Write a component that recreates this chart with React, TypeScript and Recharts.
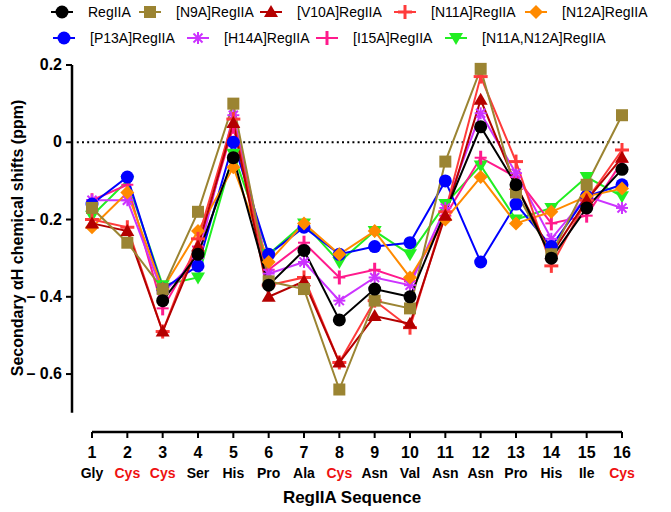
import { LineChart, Line, XAxis, YAxis, ReferenceLine } from "recharts";

const residues = [1, 2, 3, 4, 5, 6, 7, 8, 9, 10, 11, 12, 13, 14, 15, 16];
const residueNames = ["Gly", "Cys", "Cys", "Ser", "His", "Pro", "Ala", "Cys", "Asn", "Val", "Asn", "Asn", "Pro", "His", "Ile", "Cys"];
const yTicks = [0.2, 0, -0.2, -0.4, -0.6];

// RegIIA has no symbols at residues 1, 2 and 11 in the figure
const regIIA = [null, null, -0.41, -0.29, -0.04, -0.37, -0.28, -0.46, -0.38, -0.4, null, 0.04, -0.11, -0.3, -0.17, -0.07];
const n9a = [-0.17, -0.26, -0.38, -0.18, 0.1, -0.36, -0.38, -0.64, -0.41, -0.43, -0.05, 0.19, -0.13, -0.29, -0.11, 0.07];
const v10a = [-0.21, -0.23, -0.49, -0.27, 0.05, -0.4, -0.36, -0.57, -0.45, -0.47, -0.19, 0.11, -0.11, -0.29, -0.15, -0.04];
const n11a = [-0.2, -0.22, -0.49, -0.25, 0.06, -0.37, -0.35, -0.57, -0.41, -0.48, -0.18, 0.17, -0.05, -0.32, -0.15, -0.02];
const n12a = [-0.22, -0.13, -0.38, -0.23, -0.065, -0.31, -0.21, -0.29, -0.23, -0.35, -0.2, -0.09, -0.21, -0.18, -0.14, -0.12];
const p13a = [-0.16, -0.09, -0.38, -0.32, 0.0, -0.29, -0.22, -0.29, -0.27, -0.26, -0.1, -0.31, -0.16, -0.27, -0.14, -0.11];
const h14a = [-0.15, -0.15, -0.39, -0.3, 0.07, -0.34, -0.31, -0.41, -0.35, -0.37, -0.17, 0.075, -0.08, -0.25, -0.14, -0.17];
const i15a = [-0.15, -0.11, -0.43, -0.27, 0.04, -0.33, -0.26, -0.35, -0.33, -0.36, -0.19, -0.04, -0.09, -0.21, -0.19, -0.05];
const n11an12a = [-0.19, -0.1, -0.37, -0.35, -0.03, -0.29, -0.21, -0.31, -0.23, -0.29, -0.16, -0.06, -0.2, -0.17, -0.09, -0.14];

type Shape = "circle" | "square" | "triUp" | "triDown" | "plus" | "diamond" | "star" | "thinPlus";

const series: { key: string; name: string; color: string; shape: Shape; values: (number | null)[] }[] = [
  { key: "regIIA", name: "RegIIA", color: "#000000", shape: "circle", values: regIIA },
  { key: "n9a", name: "[N9A]RegIIA", color: "#9B8432", shape: "square", values: n9a },
  { key: "v10a", name: "[V10A]RegIIA", color: "#B40000", shape: "triUp", values: v10a },
  { key: "n11a", name: "[N11A]RegIIA", color: "#FF3B3B", shape: "plus", values: n11a },
  { key: "n12a", name: "[N12A]RegIIA", color: "#FF8A00", shape: "diamond", values: n12a },
  { key: "p13a", name: "[P13A]RegIIA", color: "#0000FF", shape: "circle", values: p13a },
  { key: "h14a", name: "[H14A]RegIIA", color: "#CC33FF", shape: "star", values: h14a },
  { key: "i15a", name: "[I15A]RegIIA", color: "#FF1A8C", shape: "thinPlus", values: i15a },
  { key: "n11an12a", name: "[N11A,N12A]RegIIA", color: "#22EE22", shape: "triDown", values: n11an12a },
];

const data = residues.map((r, i) => {
  const row: Record<string, number | null> = { x: r };
  series.forEach((s) => (row[s.key] = s.values[i]));
  return row;
});

const FONT = "'Liberation Sans', Arial, sans-serif";

function Marker({ cx, cy, shape, color }: { cx: number; cy: number; shape: Shape; color: string }) {
  switch (shape) {
    case "circle":
      return <circle cx={cx} cy={cy} r={6.5} fill={color} />;
    case "square":
      return <rect x={cx - 6} y={cy - 6} width={12} height={12} fill={color} />;
    case "triUp":
      return <polygon points={`${cx},${cy - 7} ${cx - 7},${cy + 5} ${cx + 7},${cy + 5}`} fill={color} />;
    case "triDown":
      return <polygon points={`${cx - 7},${cy - 5} ${cx + 7},${cy - 5} ${cx},${cy + 7}`} fill={color} />;
    case "diamond":
      return <polygon points={`${cx},${cy - 7} ${cx + 7},${cy} ${cx},${cy + 7} ${cx - 7},${cy}`} fill={color} />;
    case "plus":
      return (
        <g stroke={color} strokeWidth={3}>
          <line x1={cx - 7} y1={cy} x2={cx + 7} y2={cy} />
          <line x1={cx} y1={cy - 7} x2={cx} y2={cy + 7} />
        </g>
      );
    case "thinPlus":
      return (
        <g stroke={color}>
          <line x1={cx - 6} y1={cy} x2={cx + 6} y2={cy} strokeWidth={2} />
          <line x1={cx} y1={cy - 7} x2={cx} y2={cy + 7} strokeWidth={3} />
        </g>
      );
    case "star":
      return (
        <g stroke={color} strokeWidth={2}>
          <line x1={cx - 6} y1={cy} x2={cx + 6} y2={cy} />
          <line x1={cx} y1={cy - 6} x2={cx} y2={cy + 6} />
          <line x1={cx - 4.5} y1={cy - 4.5} x2={cx + 4.5} y2={cy + 4.5} />
          <line x1={cx - 4.5} y1={cy + 4.5} x2={cx + 4.5} y2={cy - 4.5} />
        </g>
      );
  }
  return null;
}

// legend: marker x per entry, text starts 26px to the right
const legendRows = [
  [
    { i: 0, mx: 62 },
    { i: 1, mx: 150 },
    { i: 2, mx: 271 },
    { i: 3, mx: 405 },
    { i: 4, mx: 536 },
  ],
  [
    { i: 5, mx: 64 },
    { i: 6, mx: 198 },
    { i: 7, mx: 327 },
    { i: 8, mx: 456 },
  ],
];
const legendY = [12, 38];

function XTick({ x, y, payload }: any) {
  const v = payload.value as number;
  const name = residueNames[v - 1];
  return (
    <g>
      <text x={x} y={y + 18} textAnchor="middle" fontFamily={FONT} fontWeight="bold" fontSize={16} fill="#000">
        {v}
      </text>
      <text x={x} y={y + 38} textAnchor="middle" fontFamily={FONT} fontWeight="bold" fontSize={14} fill={name === "Cys" ? "#EE1111" : "#000"}>
        {name}
      </text>
    </g>
  );
}

function YTick({ x, y, payload }: any) {
  const v = payload.value as number;
  const label = v < 0 ? `\u2013 ${Math.abs(v)}` : String(v);
  return (
    <text x={x - 2} y={y + 5} textAnchor="end" fontFamily={FONT} fontWeight="bold" fontSize={16} fill="#000">
      {label}
    </text>
  );
}

export default function App() {
  const drawOrder = [...series].reverse();
  return (
    <div style={{ position: "absolute", left: 0, top: 0, width: 671, height: 512, background: "#fff" }}>
      <LineChart width={671} height={512} data={data} margin={{ top: 65, right: 49, bottom: 0, left: 12 }}>
        <XAxis
          dataKey="x"
          type="number"
          domain={[0.434, 16]}
          ticks={residues}
          axisLine={false}
          tickLine={{ stroke: "#000", strokeWidth: 2 }}
          tickSize={6}
          height={80}
          tick={<XTick />}
          interval={0}
          label={{
            content: () => (
              <text x={352} y={503} textAnchor="middle" fontFamily={FONT} fontWeight="bold" fontSize={17} fill="#000">
                RegIIA Sequence
              </text>
            ),
          }}
        />
        <YAxis
          type="number"
          domain={[-0.75, 0.2]}
          ticks={yTicks}
          axisLine={false}
          tickLine={{ stroke: "#000", strokeWidth: 2 }}
          tickSize={6}
          width={60}
          tick={<YTick />}
          interval={0}
          label={{
            content: () => (
              <text
                x={0}
                y={0}
                transform="translate(23,238) rotate(-90)"
                textAnchor="middle"
                fontFamily={FONT}
                fontWeight="bold"
                fontSize={16}
                fill="#000"
              >
                Secondary αH chemical shifts (ppm)
              </text>
            ),
          }}
        />
        <ReferenceLine
          segment={[{ x: 0.57, y: 0 }, { x: 16, y: 0 }]}
          stroke="#000"
          strokeWidth={2}
          strokeDasharray="2 3.2"
          ifOverflow="visible"
        />
        <ReferenceLine
          segment={[{ x: 0.434, y: -0.7 }, { x: 0.434, y: 0.2 }]}
          stroke="#000"
          strokeWidth={2.5}
          ifOverflow="visible"
        />
        <ReferenceLine
          segment={[{ x: 1, y: -0.75 }, { x: 16, y: -0.75 }]}
          stroke="#000"
          strokeWidth={2.5}
          ifOverflow="visible"
        />
        {drawOrder.map((s) => (
          <Line
            key={s.key}
            dataKey={s.key}
            name={s.name}
            stroke={s.color}
            strokeWidth={2}
            connectNulls
            isAnimationActive={false}
            activeDot={false}
            dot={(p: any) =>
              p.value == null || p.cy == null ? (
                <g key={`${s.key}-${p.index}`} />
              ) : (
                <Marker key={`${s.key}-${p.index}`} cx={p.cx} cy={p.cy} shape={s.shape} color={s.color} />
              )
            }
          />
        ))}
      </LineChart>
      <svg width={671} height={56} style={{ position: "absolute", left: 0, top: 0 }}>
        {legendRows.map((row, ri) =>
          row.map((it) => {
            const s = series[it.i];
            const y = legendY[ri];
            return (
              <g key={s.key}>
                <line x1={it.mx - 11} y1={y} x2={it.mx + 11} y2={y} stroke={s.color} strokeWidth={2} />
                <Marker cx={it.mx} cy={y} shape={s.shape} color={s.color} />
                <text x={it.mx + 26} y={y + 5} fontFamily={FONT} fontSize={14} fill="#000">
                  {s.name}
                </text>
              </g>
            );
          })
        )}
      </svg>
    </div>
  );
}
